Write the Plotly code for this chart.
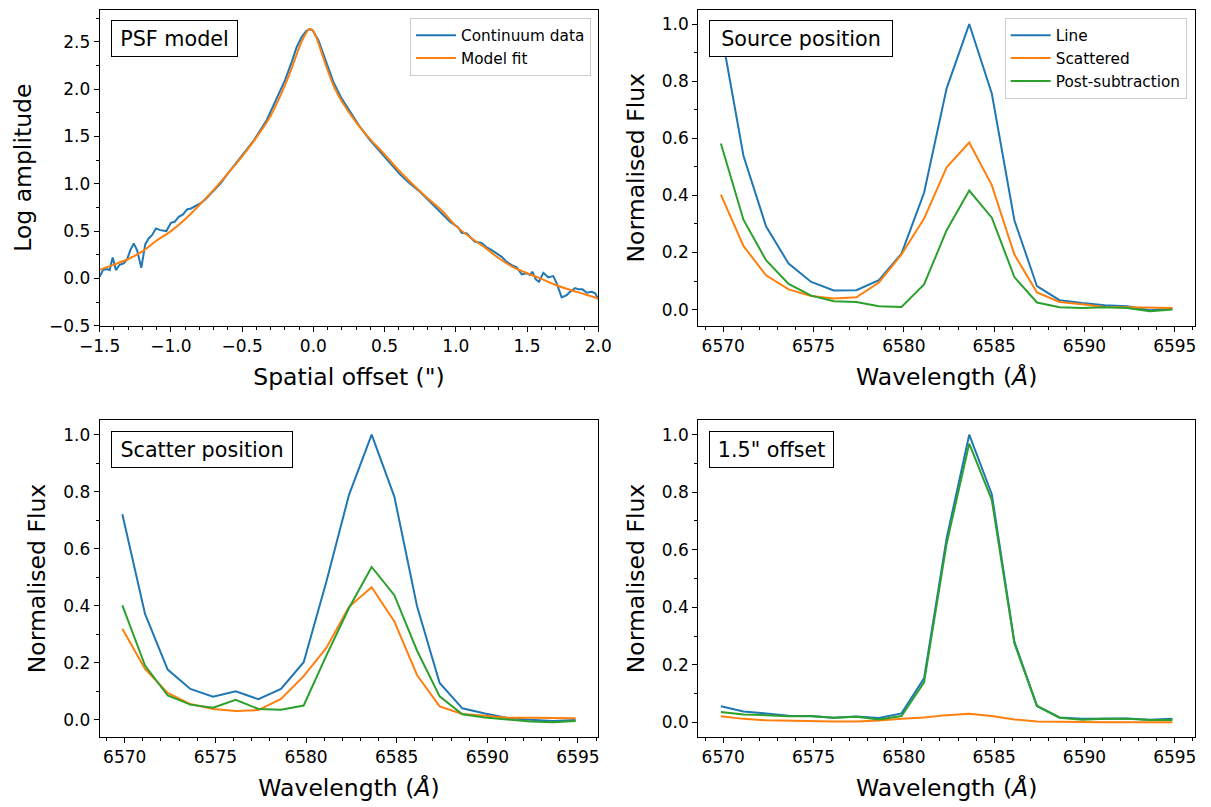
import plotly.graph_objects as go

# ---------------- data ----------------
# PSF panel
psf_offset = [-1.5, -1.477, -1.449, -1.43, -1.409, -1.386, -1.36, -1.332, -1.308, -1.285,
              -1.261, -1.238, -1.208, -1.18, -1.156, -1.133, -1.105, -1.075, -1.032, -1.0,
              -0.974, -0.945, -0.915, -0.887, -0.859, -0.829, -0.794, -0.759, -0.724, -0.689,
              -0.653, -0.609, -0.515, -0.422, -0.328, -0.258, -0.199, -0.152, -0.117, -0.082,
              -0.052, -0.029, -0.005, 0.035, 0.082, 0.14, 0.199, 0.257, 0.327, 0.397,
              0.468, 0.538, 0.608, 0.678, 0.748, 0.819, 0.889, 0.959, 0.994, 1.017,
              1.041, 1.076, 1.099, 1.134, 1.181, 1.217, 1.252, 1.287, 1.322, 1.357,
              1.392, 1.427, 1.463, 1.498, 1.521, 1.537, 1.561, 1.584, 1.614, 1.649,
              1.684, 1.708, 1.743, 1.778, 1.802, 1.837, 1.861, 1.889, 1.919, 1.954,
              1.978, 2.0]
psf_data = [0.02, 0.088, 0.098, 0.088, 0.222, 0.088, 0.144, 0.158, 0.20, 0.299,
            0.37, 0.30, 0.112, 0.362, 0.422, 0.457, 0.528, 0.51, 0.50, 0.587,
            0.598, 0.651, 0.676, 0.729, 0.739, 0.764, 0.792, 0.834, 0.89, 0.943,
            1.003, 1.091, 1.268, 1.45, 1.672, 1.90, 2.095, 2.288, 2.446, 2.552,
            2.612, 2.633, 2.623, 2.517, 2.324, 2.077, 1.90, 1.76, 1.601, 1.461,
            1.337, 1.215, 1.099, 1.003, 0.915, 0.809, 0.703, 0.598, 0.563, 0.539,
            0.482, 0.475, 0.44, 0.387, 0.376, 0.327, 0.299, 0.264, 0.228, 0.175,
            0.14, 0.116, 0.042, 0.053, 0.035, 0.07, -0.011, -0.036, 0.059, 0.011,
            0.024, -0.053, -0.20, -0.176, -0.141, -0.102, -0.116, -0.116, -0.152, -0.141,
            -0.158, -0.222]

model_offset = [-1.5, -1.4, -1.3, -1.2, -1.1, -1.0, -0.9, -0.8, -0.7, -0.6, -0.5, -0.4,
                -0.3, -0.2, -0.15, -0.1, -0.06, -0.03, -0.01, 0.02, 0.05, 0.1, 0.15,
                0.2, 0.3, 0.4, 0.5, 0.6, 0.7, 0.8, 0.9, 1.0, 1.1, 1.2, 1.3, 1.4, 1.5,
                1.6, 1.7, 1.8, 1.9, 2.0]
model_fit = [0.09, 0.145, 0.205, 0.285, 0.40, 0.50, 0.625, 0.775, 0.935, 1.11, 1.29, 1.49,
             1.72, 2.04, 2.23, 2.44, 2.57, 2.635, 2.63, 2.55, 2.42, 2.2, 2.01,
             1.87, 1.65, 1.47, 1.31, 1.14, 0.99, 0.85, 0.72, 0.555, 0.435, 0.33, 0.215,
             0.12, 0.055, -0.005, -0.07, -0.12, -0.165, -0.212]

# Wavelength grid (Angstrom)
wavelength = [6569.87, 6571.12, 6572.37, 6573.62, 6574.87, 6576.12, 6577.37, 6578.62,
              6579.87, 6581.12, 6582.37, 6583.62, 6584.87, 6586.12, 6587.37, 6588.62,
              6589.87, 6591.12, 6592.37, 6593.62, 6594.87]

# Source position
src_line = [0.98, 0.539, 0.292, 0.161, 0.097, 0.067, 0.068, 0.103, 0.196, 0.409, 0.775,
            1.0, 0.757, 0.313, 0.082, 0.033, 0.023, 0.015, 0.012, -0.002, 0.004]
src_scat = [0.403, 0.223, 0.120, 0.071, 0.048, 0.039, 0.043, 0.095, 0.193, 0.319, 0.498,
            0.585, 0.436, 0.193, 0.060, 0.027, 0.019, 0.009, 0.008, 0.008, 0.006]
src_post = [0.582, 0.315, 0.173, 0.090, 0.049, 0.029, 0.027, 0.012, 0.009, 0.088, 0.278,
            0.417, 0.322, 0.114, 0.025, 0.008, 0.006, 0.008, 0.006, -0.006, 0.0]

# Scatter position
sct_line = [0.721, 0.371, 0.176, 0.108, 0.081, 0.100, 0.072, 0.108, 0.202, 0.484, 0.789,
            1.0, 0.783, 0.399, 0.129, 0.040, 0.022, 0.006, 0.0, -0.004, -0.001]
sct_scat = [0.319, 0.178, 0.094, 0.055, 0.038, 0.031, 0.034, 0.073, 0.153, 0.252, 0.396,
            0.465, 0.345, 0.157, 0.047, 0.020, 0.014, 0.007, 0.007, 0.007, 0.005]
sct_post = [0.401, 0.190, 0.085, 0.053, 0.042, 0.070, 0.038, 0.035, 0.050, 0.225, 0.392,
            0.536, 0.437, 0.243, 0.082, 0.019, 0.008, 0.0, -0.006, -0.009, -0.004]

# 1.5" offset
off_line = [0.056, 0.038, 0.031, 0.023, 0.022, 0.016, 0.020, 0.015, 0.031, 0.153, 0.640,
            1.0, 0.793, 0.280, 0.057, 0.017, 0.012, 0.012, 0.013, 0.009, 0.012]
off_scat = [0.021, 0.012, 0.007, 0.005, 0.003, 0.003, 0.003, 0.006, 0.012, 0.017, 0.025,
            0.030, 0.022, 0.010, 0.003, 0.001, 0.001, 0.0, 0.0, 0.0, 0.0]
off_post = [0.036, 0.027, 0.025, 0.021, 0.021, 0.016, 0.019, 0.010, 0.022, 0.139, 0.622,
            0.969, 0.773, 0.275, 0.057, 0.016, 0.009, 0.012, 0.012, 0.008, 0.008]

panel_labels = ["PSF model", "Source position", "Scatter position", "1.5\" offset"]
series_names = ["Line", "Scattered", "Post-subtraction"]
psf_names = ["Continuum data", "Model fit"]

# ---------------- style ----------------
BLUE, ORANGE, GREEN = "#1f77b4", "#ff7f0e", "#2ca02c"
FONT = "DejaVu Sans"
OFF = 8                      # page body margin of the browser
W, H = 1211 - OFF, 807 - OFF

fig = go.Figure()

# PSF panel
fig.add_trace(go.Scatter(x=psf_offset, y=psf_data, mode="lines", name=psf_names[0],
                         line=dict(color=BLUE, width=2), xaxis="x", yaxis="y", legend="legend"))
fig.add_trace(go.Scatter(x=model_offset, y=model_fit, mode="lines", name=psf_names[1],
                         line=dict(color=ORANGE, width=2, shape="spline", smoothing=0.6),
                         xaxis="x", yaxis="y", legend="legend"))

spec_sets = [(src_line, src_scat, src_post, "x2", "y2", True),
             (sct_line, sct_scat, sct_post, "x3", "y3", False),
             (off_line, off_scat, off_post, "x4", "y4", False)]
for l, s, p, xa, ya, show in spec_sets:
    for vals, col, nm in zip((l, s, p), (BLUE, ORANGE, GREEN), series_names):
        fig.add_trace(go.Scatter(x=wavelength, y=vals, mode="lines", name=nm,
                                 line=dict(color=col, width=2), xaxis=xa, yaxis=ya,
                                 showlegend=show, legend="legend2"))


def auto_range(*arrs):
    lo = min(min(a) for a in arrs)
    hi = max(max(a) for a in arrs)
    pad = 0.05 * (hi - lo)
    return [lo - pad, hi + pad]


wl_range = auto_range(wavelength)


def px_x(v):
    return (v - OFF) / W


def px_y(v):
    return 1 - (v - OFF) / H


# domains (paper coords), from page pixel positions
xl = [px_x(99.7), px_x(598.3)]
xr = [px_x(698.3), px_x(1195)]
yt = [px_y(325.7), px_y(9.7)]
yb = [px_y(736.7), px_y(420.3)]

tickfont = dict(family=FONT, size=17, color="black")
titlefont = dict(family=FONT, size=23.5, color="black")


def axis_common(minor_dtick):
    return dict(showline=True, linecolor="black", linewidth=1.1, mirror=True,
                ticks="outside", ticklen=5, tickwidth=1.1, tickcolor="black",
                showgrid=False, zeroline=False, tickfont=tickfont, automargin=False,
                minor=dict(ticks="outside", ticklen=3, tickwidth=0.8, tickcolor="black",
                           dtick=minor_dtick, showgrid=False))


xtitle_wl = "Wavelength (<i>Å</i>)"
XSTAND, YSTAND = 13, 10
legend_style = dict(xanchor="right", yanchor="top", itemwidth=40,
                    bgcolor="rgba(255,255,255,0.8)", bordercolor="#cccccc", borderwidth=1,
                    font=dict(family=FONT, size=15.3, color="black"))
layout = dict(
    width=W, height=H, margin=dict(l=0, r=0, t=0, b=0, autoexpand=False),
    paper_bgcolor="white", plot_bgcolor="white",
    font=dict(family=FONT, color="black"),
    xaxis=dict(domain=xl, anchor="y", range=[-1.5, 2.0], dtick=0.5, tick0=0, tickformat=".1f",
               title=dict(text="Spatial offset (\")", font=titlefont, standoff=XSTAND),
               **axis_common(0.1)),
    yaxis=dict(domain=yt, anchor="x", range=[-0.5, 2.84], dtick=0.5, tick0=0, tickformat=".1f",
               title=dict(text="Log amplitude", font=titlefont, standoff=YSTAND),
               **axis_common(0.25)),
    xaxis2=dict(domain=xr, anchor="y2", range=wl_range, dtick=5, tick0=6570,
                title=dict(text=xtitle_wl, font=titlefont, standoff=XSTAND), **axis_common(1)),
    yaxis2=dict(domain=yt, anchor="x2", range=auto_range(src_line, src_scat, src_post),
                dtick=0.2, tick0=0, tickformat=".1f",
                title=dict(text="Normalised Flux", font=titlefont, standoff=YSTAND),
                **axis_common(0.1)),
    xaxis3=dict(domain=xl, anchor="y3", range=wl_range, dtick=5, tick0=6570,
                title=dict(text=xtitle_wl, font=titlefont, standoff=XSTAND), **axis_common(1)),
    yaxis3=dict(domain=yb, anchor="x3", range=auto_range(sct_line, sct_scat, sct_post),
                dtick=0.2, tick0=0, tickformat=".1f",
                title=dict(text="Normalised Flux", font=titlefont, standoff=YSTAND),
                **axis_common(0.1)),
    xaxis4=dict(domain=xr, anchor="y4", range=wl_range, dtick=5, tick0=6570,
                title=dict(text=xtitle_wl, font=titlefont, standoff=XSTAND), **axis_common(1)),
    yaxis4=dict(domain=yb, anchor="x4", range=auto_range(off_line, off_scat, off_post),
                dtick=0.2, tick0=0, tickformat=".1f",
                title=dict(text="Normalised Flux", font=titlefont, standoff=YSTAND),
                **axis_common(0.1)),
    legend=dict(x=px_x(591), y=px_y(17.7), **legend_style),
    legend2=dict(x=px_x(1186.7), y=px_y(17.7), **legend_style),
)
fig.update_layout(**layout)

box_specs = [("x", "y", 117, 0.9674), ("x2", "y2", 174, 0.9674),
             ("x3", "y3", 172, 0.966), ("x4", "y4", 115, 0.966)]
for (xa, ya, bw, ytop), txt in zip(box_specs, panel_labels):
    fig.add_annotation(text=txt, xref=f"{xa} domain", yref=f"{ya} domain",
                       x=11 / 498.6, y=ytop, xanchor="left", yanchor="top",
                       showarrow=False, width=bw, height=27, align="center",
                       font=dict(family=FONT, size=20.7, color="black"),
                       bgcolor="white", bordercolor="black", borderwidth=1, borderpad=4)

fig.write_html("out.html")
